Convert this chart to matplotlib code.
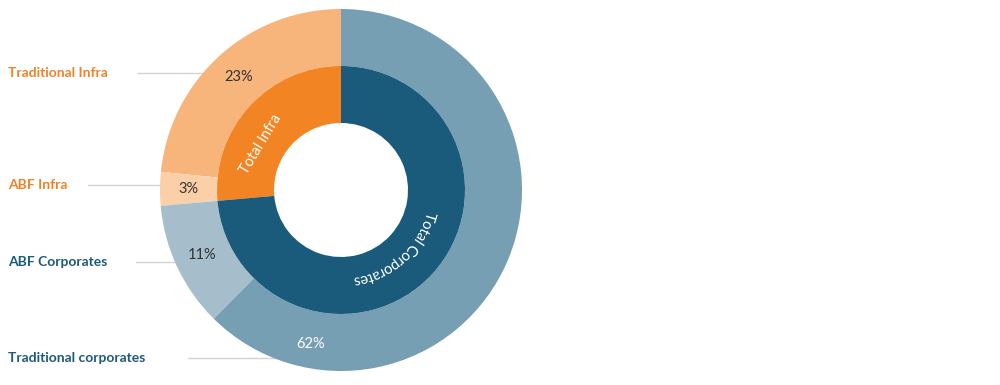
import numpy as np
import matplotlib.pyplot as plt
from matplotlib.font_manager import FontProperties
from matplotlib.textpath import TextPath
from matplotlib.patches import PathPatch
from matplotlib.path import Path

# ================================
# Data
# ================================
outer_labels = ["Traditional Infra", "ABF Infra", "ABF Corporates", "Traditional corporates"]
outer_values = [23.4, 3.0, 11.2, 62.4]
inner_labels = ["Total Infra", "Total Corporates"]
inner_values = [26.4, 73.6]

outer_colors = ["#F7B47B", "#FBCFA7", "#A6BECB", "#769FB3"]
inner_colors = ["#F28424", "#1A5B7C"]
label_colors = ["#F08226", "#F08226", "#1B5A7A", "#1B5A7A"]

# ================================
# Layout (pixels, figure is 1000 x 385)
# ================================
W, H = 1000, 385
cx, cy = 341, H - 190
R_out, R_mid, R_in = 181, 124, 67
label_rows = [73, 185, 262, 358]
line_start = [138, 88, 136, 188]

fig = plt.figure(figsize=(10, 3.85), dpi=100)
ax = fig.add_axes([0, 0, 1, 1])

ax.pie(outer_values, radius=R_out, center=(cx, cy), startangle=90,
       colors=outer_colors, wedgeprops=dict(width=R_out - R_mid, linewidth=0),
       frame=True)
ax.pie(inner_values, radius=R_mid, center=(cx, cy), startangle=90,
       colors=inner_colors, wedgeprops=dict(width=R_mid - R_in, linewidth=0),
       frame=True)
ax.set_xlim(0, W)
ax.set_ylim(0, H)
ax.axis("off")

# --- category labels with leader lines ---
lab_font = dict(family="Lato", weight="bold", size=10)
for name, row, x0, col in zip(outer_labels, label_rows, line_start, label_colors):
    y = H - row
    x1 = cx - np.sqrt(R_out**2 - (y - cy)**2) + 4
    ax.plot([x0, x1], [y, y], color="#D3D3D3", lw=1, zorder=0)
    ax.text(8, y, name, color=col, ha="left", va="center", **lab_font)

# --- percentage labels ---
pct_font = dict(family="Lato", weight="normal", size=10.5)
edges = 90 + 3.6 * np.concatenate([[0], np.cumsum(outer_values)])
mids = (edges[:-1] + edges[1:]) / 2
mids[-1] = 259  # big slice label sits at the bottom
for i, (v, a) in enumerate(zip(outer_values, mids)):
    r = 153 if i < 3 else 157
    t = np.radians(a)
    ax.text(cx + r * np.cos(t), cy + r * np.sin(t), f"{v:.0f}%",
            color="white" if i == 3 else "#333333",
            ha="center", va="center", zorder=5, **pct_font)

# --- inner labels ---
ax.text(cx + 92 * np.cos(np.radians(150)), cy + 92 * np.sin(np.radians(150)),
        inner_labels[0], color="white", rotation=59, rotation_mode="anchor",
        ha="center", va="center", family="Lato", size=10.5, zorder=5)


def curved_text(s, r, centre_deg, target, size_px):
    # bend the glyph outlines along a circle, reading clockwise
    tp = TextPath((0, 0), s, size=size_px, prop=FontProperties(family="Lato"))
    verts = tp.vertices.copy()
    ext = tp.get_extents()
    scale = target / ext.width
    x = (verts[:, 0] - ext.x0) * scale
    start = np.radians(centre_deg) + target / 2 / r
    ang = start - x / r
    rad = r + verts[:, 1]
    new = np.column_stack([cx + rad * np.cos(ang), cy + rad * np.sin(ang)])
    ax.add_patch(PathPatch(Path(new, tp.codes), facecolor="white",
                           edgecolor="none", zorder=5))


curved_text(inner_labels[1], 89, -48, 104, 15.2)

fig.savefig("out.png", dpi=100)
